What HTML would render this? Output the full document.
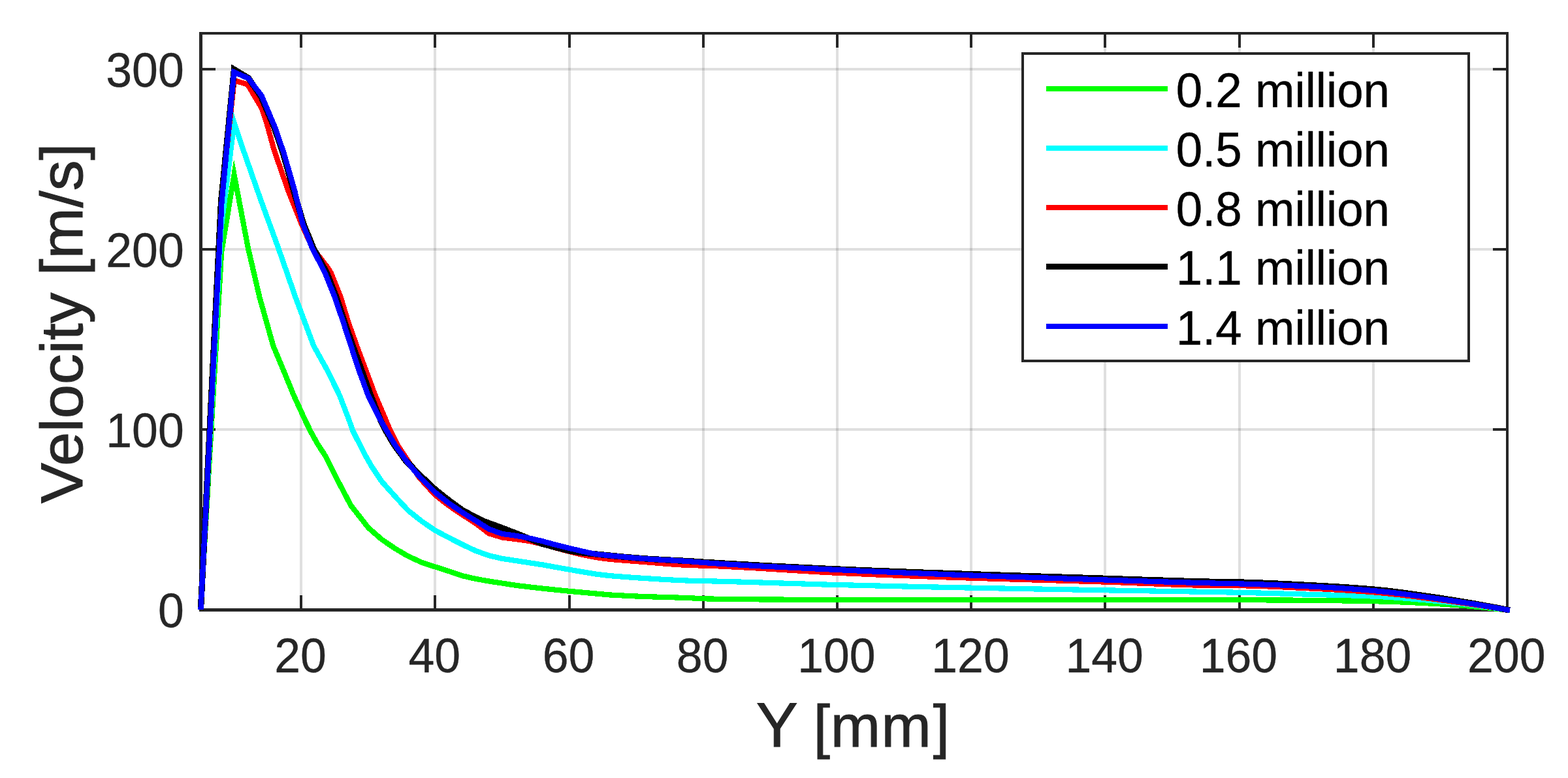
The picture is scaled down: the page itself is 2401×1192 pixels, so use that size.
<!DOCTYPE html>
<html lang="en"><head><meta charset="utf-8"><title>Velocity vs Y</title>
<style>
html,body{margin:0;padding:0;background:#fff;}
body{width:2401px;height:1192px;overflow:hidden;}
svg{display:block;}
</style></head><body>
<svg width="2401" height="1192" viewBox="0 0 2401 1192" role="img" aria-label="Velocity versus Y for five mesh sizes">
<rect width="2401" height="1192" fill="#fff"/>
<g fill="#262626" fill-opacity="0.15">
<rect x="459" y="53" width="4" height="879"/>
<rect x="664" y="53" width="4" height="879"/>
<rect x="870" y="53" width="4" height="879"/>
<rect x="1075" y="53" width="4" height="879"/>
<rect x="1280" y="53" width="4" height="879"/>
<rect x="1485" y="53" width="4" height="879"/>
<rect x="1690" y="53" width="4" height="879"/>
<rect x="1896" y="53" width="4" height="879"/>
<rect x="2101" y="53" width="4" height="879"/>
<rect x="310" y="656" width="1996" height="4"/>
<rect x="310" y="380" width="1996" height="4"/>
<rect x="310" y="104" width="1996" height="4"/>
</g>
<g fill="#262626">
<rect x="305" y="49" width="5" height="888"/>
<rect x="2306" y="49" width="4" height="888"/>
<rect x="305" y="49" width="2005" height="4"/>
<rect x="307" y="932" width="2003" height="5"/>
<rect x="459" y="912" width="4" height="20"/>
<rect x="459" y="53" width="4" height="20"/>
<rect x="664" y="912" width="4" height="20"/>
<rect x="664" y="53" width="4" height="20"/>
<rect x="870" y="912" width="4" height="20"/>
<rect x="870" y="53" width="4" height="20"/>
<rect x="1075" y="912" width="4" height="20"/>
<rect x="1075" y="53" width="4" height="20"/>
<rect x="1280" y="912" width="4" height="20"/>
<rect x="1280" y="53" width="4" height="20"/>
<rect x="1485" y="912" width="4" height="20"/>
<rect x="1485" y="53" width="4" height="20"/>
<rect x="1690" y="912" width="4" height="20"/>
<rect x="1690" y="53" width="4" height="20"/>
<rect x="1896" y="912" width="4" height="20"/>
<rect x="1896" y="53" width="4" height="20"/>
<rect x="2101" y="912" width="4" height="20"/>
<rect x="2101" y="53" width="4" height="20"/>
<rect x="310" y="656" width="20" height="4"/>
<rect x="2286" y="656" width="20" height="4"/>
<rect x="310" y="380" width="20" height="4"/>
<rect x="2286" y="380" width="20" height="4"/>
<rect x="310" y="104" width="20" height="4"/>
<rect x="2286" y="104" width="20" height="4"/>
</g>
<g fill="none" stroke-linejoin="miter" stroke-miterlimit="10" stroke-linecap="butt" shape-rendering="crispEdges">
<path d="M307.4 934.3 L339.2 385.8 L358.5 267.6 L379.9 380.0 L397.5 455.5 L418.3 529.7 L434.2 567.7 L449.7 605.5 L467.0 643.3 L475.1 660.0 L486.0 679.7 L497.7 697.7 L516.8 735.5 L537.2 774.3 L563.9 808.4 L584.4 826.4 L604.9 840.4 L625.4 852.4 L646.0 861.8 L666.5 868.5 L687.0 875.0 L707.5 882.1 L728.0 886.8 L748.6 890.5 L769.1 893.6 L789.6 896.8 L810.1 899.3 L830.6 901.6 L871.7 905.8 L933.3 911.4 L953.8 912.5 L974.3 913.5 L994.9 914.3 L1015.4 914.9 L1035.9 915.5 L1056.4 916.2 L1076.9 917.3 L1097.5 917.7 L1118.0 918.0 L1138.5 918.2 L1159.0 918.4 L1179.5 918.5 L1200.1 918.6 L1220.6 918.7 L1241.1 918.7 L1261.6 918.8 L1282.1 918.8 L1302.7 918.8 L1323.2 918.8 L1343.7 918.9 L1364.2 918.9 L1384.7 918.9 L1405.3 918.9 L1425.8 918.9 L1446.3 918.9 L1466.8 918.9 L1487.3 919.0 L1507.9 919.0 L1528.4 919.0 L1548.9 919.0 L1569.4 919.0 L1589.9 919.0 L1610.5 919.0 L1631.0 919.0 L1651.5 919.0 L1672.0 919.0 L1692.5 919.0 L1713.1 919.0 L1733.6 919.0 L1754.1 919.1 L1774.6 919.1 L1795.1 919.1 L1815.7 919.1 L1836.2 919.1 L1856.7 919.1 L1877.2 919.2 L1897.7 919.2 L1918.3 919.3 L1938.8 919.4 L1959.3 919.5 L1979.8 919.6 L2000.3 919.8 L2020.9 920.0 L2041.4 920.2 L2061.9 920.5 L2082.4 920.8 L2102.9 921.2 L2123.5 921.7 L2144.0 922.4 L2164.5 923.3 L2185.0 924.3 L2205.5 925.4 L2226.1 926.8 L2246.6 928.4 L2267.1 930.3 L2287.6 932.3 L2312.0 935.0" stroke="#00ff00" stroke-width="8.2"/>
<path d="M307.4 934.3 L338.5 350.0 L358.6 188.5 L372.6 230.0 L399.0 305.5 L426.2 380.0 L452.5 455.5 L480.4 530.0 L501.4 567.7 L519.9 605.5 L534.4 643.3 L540.2 660.0 L559.4 697.7 L569.5 715.4 L584.4 737.5 L604.9 760.5 L625.4 782.5 L646.0 798.8 L666.5 812.8 L687.0 823.6 L707.5 834.1 L728.0 843.7 L748.6 851.2 L769.1 855.9 L789.6 859.0 L810.1 862.2 L830.6 865.3 L871.7 872.7 L912.8 879.6 L933.3 882.1 L953.8 883.7 L974.3 885.2 L994.9 886.5 L1015.4 887.8 L1035.9 888.9 L1056.4 889.7 L1076.9 890.1 L1097.5 890.6 L1118.0 891.1 L1138.5 891.7 L1159.0 892.3 L1179.5 893.0 L1200.1 893.6 L1220.6 894.2 L1241.1 894.9 L1261.6 895.5 L1282.1 896.0 L1302.7 896.5 L1323.2 897.0 L1343.7 897.5 L1364.2 898.0 L1384.7 898.5 L1405.3 898.9 L1425.8 899.4 L1446.3 899.8 L1466.8 900.2 L1487.3 900.6 L1507.9 901.0 L1528.4 901.4 L1548.9 901.8 L1569.4 902.2 L1589.9 902.5 L1610.5 902.9 L1631.0 903.2 L1651.5 903.6 L1672.0 903.9 L1692.5 904.3 L1713.1 904.7 L1733.6 905.0 L1754.1 905.3 L1774.6 905.7 L1795.1 906.0 L1815.7 906.3 L1836.2 906.7 L1856.7 907.0 L1877.2 907.4 L1897.7 907.8 L1918.3 908.3 L1938.8 908.8 L1959.3 909.4 L1979.8 910.0 L2000.3 910.6 L2020.9 911.1 L2041.4 911.7 L2061.9 912.2 L2082.4 912.8 L2102.9 913.6 L2123.5 914.7 L2144.0 916.1 L2164.5 917.8 L2185.0 919.6 L2205.5 921.5 L2226.1 923.7 L2246.6 926.0 L2267.1 928.6 L2287.6 931.4 L2312.0 935.0" stroke="#00ffff" stroke-width="8.2"/>
<path d="M307.4 934.3 L337.6 318.0 L358.6 123.3 L379.1 129.3 L400.5 165.5 L409.0 191.0 L419.7 230.0 L441.6 292.9 L461.8 343.2 L473.1 368.4 L481.8 384.0 L501.8 410.0 L506.7 417.8 L521.8 455.5 L533.2 493.3 L546.3 530.0 L560.4 567.7 L574.5 605.5 L590.7 643.3 L597.8 660.0 L608.5 681.4 L624.4 705.3 L642.2 731.8 L666.5 758.5 L687.0 774.5 L707.5 788.4 L728.0 801.5 L748.6 817.3 L769.1 823.5 L789.6 826.0 L810.1 828.9 L830.6 833.7 L851.2 839.5 L871.7 845.1 L892.3 850.0 L912.8 854.0 L933.3 856.9 L953.8 858.5 L974.3 860.1 L994.9 861.7 L1015.4 863.4 L1035.9 865.0 L1056.4 866.1 L1076.9 866.6 L1097.5 867.3 L1118.0 868.3 L1138.5 869.4 L1159.0 870.5 L1179.5 871.8 L1200.1 873.1 L1220.6 874.4 L1241.1 875.6 L1261.6 876.8 L1282.1 877.8 L1302.7 878.7 L1323.2 879.6 L1343.7 880.5 L1364.2 881.3 L1384.7 882.1 L1405.3 882.9 L1425.8 883.6 L1446.3 884.3 L1466.8 885.0 L1487.3 885.7 L1507.9 886.3 L1528.4 886.9 L1548.9 887.5 L1569.4 888.1 L1589.9 888.7 L1610.5 889.2 L1631.0 889.8 L1651.5 890.4 L1672.0 891.0 L1692.5 891.6 L1713.1 892.3 L1733.6 893.1 L1754.1 893.9 L1774.6 894.7 L1795.1 895.5 L1815.7 896.1 L1836.2 896.7 L1856.7 897.0 L1877.2 897.1 L1897.7 897.2 L1918.3 897.6 L1938.8 898.3 L1959.3 899.2 L1979.8 900.2 L2000.3 901.2 L2020.9 902.2 L2041.4 903.3 L2061.9 904.5 L2082.4 905.8 L2102.9 907.3 L2123.5 909.2 L2144.0 911.4 L2164.5 913.8 L2185.0 916.5 L2205.5 919.1 L2226.1 921.9 L2246.6 924.8 L2267.1 927.8 L2287.6 931.0 L2312.0 935.0" stroke="#ff0000" stroke-width="8.2"/>
<path d="M307.4 934.3 L338.5 310.0 L358.5 106.5 L380.3 119.6 L399.5 147.5 L420.0 195.4 L433.5 235.0 L449.8 292.9 L464.8 343.2 L479.8 380.0 L500.2 417.8 L515.2 455.5 L527.5 493.3 L540.3 530.0 L553.9 567.7 L567.5 605.5 L582.5 643.3 L590.9 660.0 L603.4 681.4 L620.9 705.3 L644.3 729.2 L666.5 750.0 L687.0 766.3 L707.5 781.3 L728.0 792.4 L740.0 798.2 L748.6 801.5 L769.1 809.0 L789.6 816.9 L810.1 825.2 L830.6 833.3 L851.2 838.7 L871.7 843.9 L892.3 847.0 L912.8 849.0 L933.3 851.1 L953.8 853.1 L974.3 854.9 L994.9 856.4 L1015.4 857.6 L1035.9 858.7 L1056.4 859.8 L1076.9 861.2 L1097.5 862.4 L1118.0 863.7 L1138.5 864.8 L1159.0 866.0 L1179.5 867.1 L1200.1 868.1 L1220.6 869.1 L1241.1 870.1 L1261.6 871.1 L1282.1 872.0 L1302.7 872.9 L1323.2 873.7 L1343.7 874.6 L1364.2 875.3 L1384.7 876.1 L1405.3 876.9 L1425.8 877.6 L1446.3 878.3 L1466.8 879.0 L1487.3 879.7 L1507.9 880.4 L1528.4 881.1 L1548.9 881.8 L1569.4 882.4 L1589.9 883.1 L1610.5 883.7 L1631.0 884.4 L1651.5 885.0 L1672.0 885.7 L1692.5 886.3 L1713.1 887.0 L1733.6 887.7 L1754.1 888.4 L1774.6 889.0 L1795.1 889.7 L1815.7 890.3 L1836.2 890.9 L1856.7 891.3 L1877.2 891.7 L1897.7 892.0 L1918.3 892.6 L1938.8 893.4 L1959.3 894.3 L1979.8 895.3 L2000.3 896.4 L2020.9 897.5 L2041.4 898.6 L2061.9 899.9 L2082.4 901.4 L2102.9 903.0 L2123.5 905.1 L2144.0 907.6 L2164.5 910.4 L2185.0 913.4 L2205.5 916.4 L2226.1 919.6 L2246.6 923.0 L2267.1 926.6 L2287.6 930.3 L2312.0 935.0" stroke="#000000" stroke-width="9.4"/>
<path d="M307.4 934.3 L339.5 310.5 L358.3 110.4 L380.3 120.0 L400.5 146.5 L421.2 195.4 L434.8 235.0 L451.4 292.9 L463.6 343.2 L478.0 380.0 L497.6 417.8 L512.7 455.5 L525.5 493.3 L537.4 530.0 L549.7 567.7 L563.6 605.5 L582.5 643.3 L592.1 660.0 L604.7 681.4 L621.5 705.3 L642.5 730.5 L666.5 754.5 L687.0 770.8 L707.5 784.8 L728.0 797.5 L748.6 810.6 L769.1 818.0 L789.6 820.7 L810.1 824.4 L830.6 829.2 L851.2 834.8 L871.7 839.9 L892.3 844.8 L912.8 849.1 L933.3 851.2 L953.8 853.2 L974.3 855.0 L994.9 856.6 L1015.4 857.8 L1035.9 858.9 L1056.4 860.2 L1076.9 862.0 L1097.5 863.4 L1118.0 864.7 L1138.5 865.9 L1159.0 867.1 L1179.5 868.1 L1200.1 869.1 L1220.6 870.1 L1241.1 871.1 L1261.6 872.0 L1282.1 873.0 L1302.7 874.0 L1323.2 874.9 L1343.7 875.8 L1364.2 876.7 L1384.7 877.5 L1405.3 878.4 L1425.8 879.2 L1446.3 880.0 L1466.8 880.8 L1487.3 881.5 L1507.9 882.3 L1528.4 883.0 L1548.9 883.7 L1569.4 884.4 L1589.9 885.1 L1610.5 885.8 L1631.0 886.5 L1651.5 887.2 L1672.0 887.8 L1692.5 888.5 L1713.1 889.2 L1733.6 889.8 L1754.1 890.5 L1774.6 891.2 L1795.1 891.8 L1815.7 892.4 L1836.2 893.0 L1856.7 893.5 L1877.2 894.0 L1897.7 894.4 L1918.3 895.0 L1938.8 895.7 L1959.3 896.4 L1979.8 897.3 L2000.3 898.2 L2020.9 899.3 L2041.4 900.4 L2061.9 901.8 L2082.4 903.3 L2102.9 905.0 L2123.5 907.0 L2144.0 909.4 L2164.5 912.1 L2185.0 914.9 L2205.5 917.8 L2226.1 920.8 L2246.6 923.9 L2267.1 927.2 L2287.6 930.7 L2312.0 935.0" stroke="#0000ff" stroke-width="8.2"/>
</g>
<g font-family="'Liberation Sans', Arial, Helvetica, sans-serif" font-size="75" fill="#262626" stroke="#262626" stroke-width="0.4">
<text transform="translate(460.1 1030.2) scale(0.955 1)" text-anchor="middle">20</text>
<text transform="translate(665.3 1030.2) scale(0.955 1)" text-anchor="middle">40</text>
<text transform="translate(870.5 1030.2) scale(0.955 1)" text-anchor="middle">60</text>
<text transform="translate(1075.7 1030.2) scale(0.955 1)" text-anchor="middle">80</text>
<text transform="translate(1280.9 1030.2) scale(0.955 1)" text-anchor="middle">100</text>
<text transform="translate(1486.0 1030.2) scale(0.955 1)" text-anchor="middle">120</text>
<text transform="translate(1691.2 1030.2) scale(0.955 1)" text-anchor="middle">140</text>
<text transform="translate(1896.4 1030.2) scale(0.955 1)" text-anchor="middle">160</text>
<text transform="translate(2101.6 1030.2) scale(0.955 1)" text-anchor="middle">180</text>
<text transform="translate(2306.8 1030.2) scale(0.955 1)" text-anchor="middle">200</text>
<text transform="translate(281.8 961.0) scale(0.955 1)" text-anchor="end">0</text>
<text transform="translate(281.8 685.0) scale(0.955 1)" text-anchor="end">100</text>
<text transform="translate(281.8 408.9) scale(0.955 1)" text-anchor="end">200</text>
<text transform="translate(281.8 132.9) scale(0.955 1)" text-anchor="end">300</text>
</g>
<g font-family="'Liberation Sans', Arial, Helvetica, sans-serif" font-size="91.7" fill="#262626" stroke="#262626" stroke-width="1">
<text y="1143.6" x="1157.7 1225 1245.4 1271.8 1349.4 1428.7"><tspan font-size="96">Y</tspan> [mm]</text>
<text transform="translate(125.6 495.4) rotate(-90) scale(1.022 1)" text-anchor="middle">Velocity [m/s]</text>
</g>
<rect x="1564" y="80" width="687" height="475" fill="#262626"/>
<rect x="1568" y="84" width="679" height="467" fill="#fff"/>
<g font-family="'Liberation Sans', Arial, Helvetica, sans-serif" font-size="75" fill="#000" stroke="#000" stroke-width="0.4">
<rect x="1602" y="132" width="186" height="8" fill="#00ff00" stroke="none"/>
<text transform="translate(1800.7 163.6) scale(0.9697 1)">0.2 million</text>
<rect x="1602" y="223" width="186" height="8" fill="#00ffff" stroke="none"/>
<text transform="translate(1800.7 254.6) scale(0.9697 1)">0.5 million</text>
<rect x="1602" y="314" width="186" height="8" fill="#ff0000" stroke="none"/>
<text transform="translate(1800.7 345.6) scale(0.9697 1)">0.8 million</text>
<rect x="1602" y="404" width="186" height="9" fill="#000000" stroke="none"/>
<text transform="translate(1800.7 436.1) scale(0.9697 1)">1.1 million</text>
<rect x="1602" y="496" width="186" height="8" fill="#0000ff" stroke="none"/>
<text transform="translate(1800.7 527.6) scale(0.9697 1)">1.4 million</text>
</g>
</svg>
</body></html>
